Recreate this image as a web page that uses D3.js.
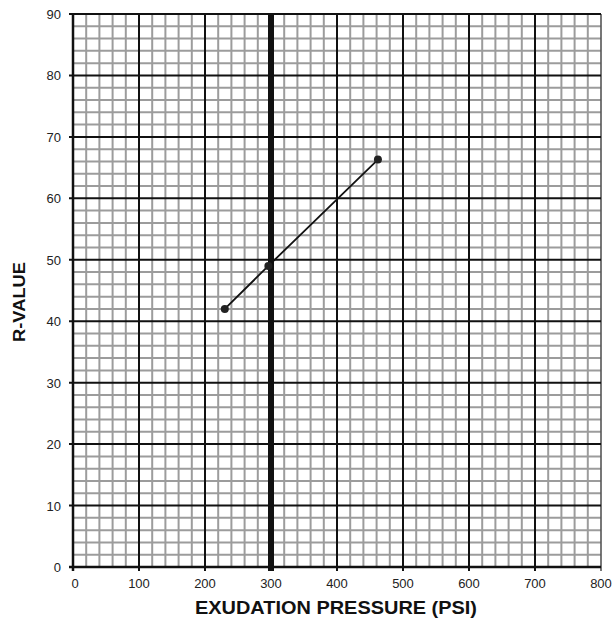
<!DOCTYPE html>
<html>
<head>
<meta charset="utf-8">
<script src="https://cdn.jsdelivr.net/npm/d3@7"></script>
<style>
  body { margin: 0; background: #fff; }
  text { font-family: "Liberation Sans", Arial, sans-serif; }
</style>
</head>
<body>
<div id="chart"></div>
<script>
// Data
const pressure = [230, 296, 462];
const rValue = [42, 49, 66.3];
const xTicks = [0, 100, 200, 300, 400, 500, 600, 700, 800];
const yTicks = [0, 10, 20, 30, 40, 50, 60, 70, 80, 90];
const xMinorStep = 20;
const yMinorStep = 2;
const heavyX = 300;

const width = 613;
const height = 622;

const svg = d3.select("#chart").append("svg")
    .attr("width", width)
    .attr("height", height);

const x = d3.scaleLinear().domain([0, 800]).range([73, 601]);
const y = d3.scaleLinear().domain([0, 90]).range([567, 14]);

// Minor grid
const xMinor = d3.range(0, 801, xMinorStep).filter(d => d % 100 !== 0);
const yMinor = d3.range(0, 91, yMinorStep).filter(d => d % 10 !== 0);

const grid = svg.append("g");
grid.selectAll(".xminor")
    .data(xMinor)
    .enter().append("line")
    .attr("x1", d => x(d)).attr("x2", d => x(d))
    .attr("y1", y(0)).attr("y2", y(90))
    .attr("stroke", "#9c9c9c")
    .attr("stroke-width", 2);
grid.selectAll(".yminor")
    .data(yMinor)
    .enter().append("line")
    .attr("x1", x(0)).attr("x2", x(800))
    .attr("y1", d => y(d)).attr("y2", d => y(d))
    .attr("stroke", "#9c9c9c")
    .attr("stroke-width", 2);

// Major grid
grid.selectAll(".xmajor")
    .data(xTicks)
    .enter().append("line")
    .attr("x1", d => x(d)).attr("x2", d => x(d))
    .attr("y1", y(0) + 4).attr("y2", y(90))
    .attr("stroke", d => d === 800 ? "#555" : "#111")
    .attr("stroke-width", d => d === heavyX ? 6 : (d === 0 ? 2.5 : (d === 800 ? 1.6 : 2)));
grid.selectAll(".ymajor")
    .data(yTicks)
    .enter().append("line")
    .attr("x1", x(0) - 4).attr("x2", x(800))
    .attr("y1", d => y(d)).attr("y2", d => y(d))
    .attr("stroke", "#111")
    .attr("stroke-width", d => d === 0 ? 2.5 : 2);

// Tick labels
svg.selectAll(".xlab")
    .data(xTicks)
    .enter().append("text")
    .attr("x", d => x(d) + (d === 0 ? 2 : 0))
    .attr("y", y(0) + 21)
    .attr("text-anchor", "middle")
    .attr("font-size", 13)
    .attr("fill", "#222")
    .text(d => d);
svg.selectAll(".ylab")
    .data(yTicks)
    .enter().append("text")
    .attr("x", x(0) - 12)
    .attr("y", d => y(d) + 5)
    .attr("text-anchor", "end")
    .attr("font-size", 13)
    .attr("fill", "#222")
    .text(d => d);

// Axis titles
svg.append("text")
    .attr("x", 195)
    .attr("y", 614)
    .attr("font-size", 18)
    .attr("font-weight", "bold")
    .attr("fill", "#111")
    .attr("textLength", 282)
    .attr("lengthAdjust", "spacingAndGlyphs")
    .text("EXUDATION PRESSURE (PSI)");
svg.append("text")
    .attr("transform", "translate(25,342) rotate(-90)")
    .attr("font-size", 17)
    .attr("font-weight", "bold")
    .attr("fill", "#111")
    .attr("textLength", 80)
    .attr("lengthAdjust", "spacingAndGlyphs")
    .text("R-VALUE");

// Data line and points
const pts = pressure.map((p, i) => [p, rValue[i]]);
svg.append("path")
    .datum(pts)
    .attr("fill", "none")
    .attr("stroke", "#111")
    .attr("stroke-width", 1.8)
    .attr("d", d3.line().x(d => x(d[0])).y(d => y(d[1])));
svg.selectAll(".pt")
    .data(pts)
    .enter().append("circle")
    .attr("cx", d => x(d[0]))
    .attr("cy", d => y(d[1]))
    .attr("r", 4)
    .attr("fill", "#222");
</script>
</body>
</html>
